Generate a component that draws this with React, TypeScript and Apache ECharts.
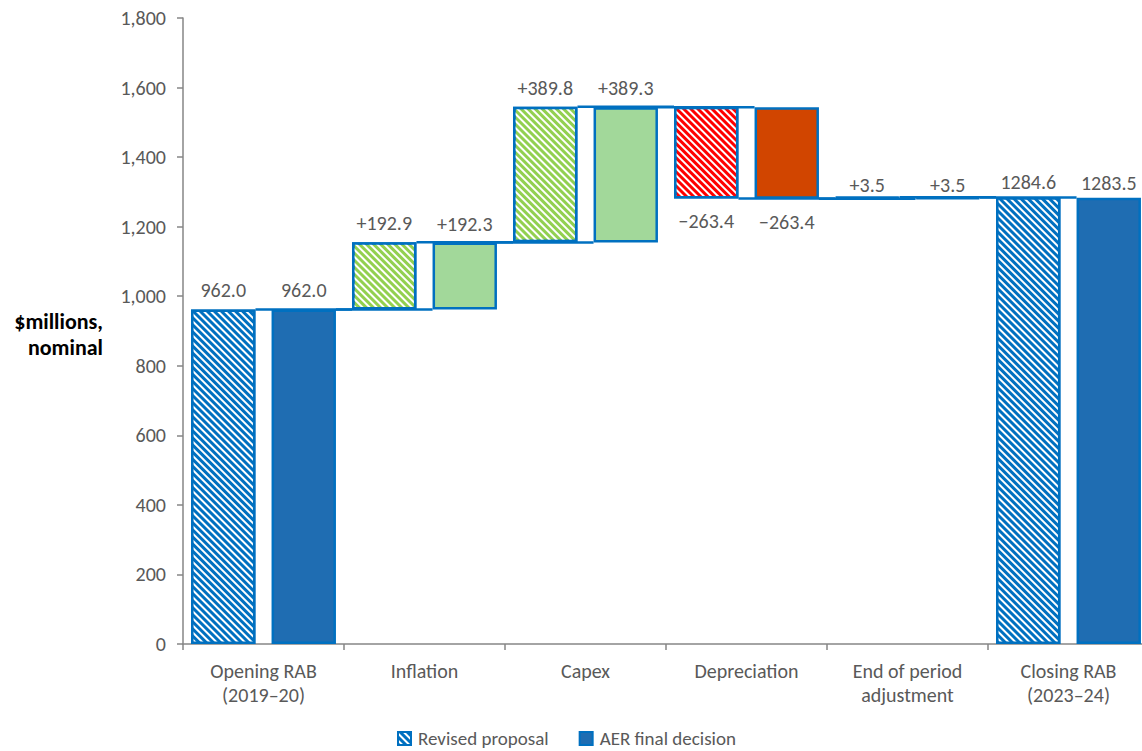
import React, { useEffect, useRef } from "react";
import * as echarts from "echarts";

const categories = [
  "Opening RAB\n(2019–20)",
  "Inflation",
  "Capex",
  "Depreciation",
  "End of period\nadjustment",
  "Closing RAB\n(2023–24)",
];
const kinds = ["total", "delta", "delta", "delta", "delta", "total"];
const revisedValues = [962.0, 192.9, 389.8, -263.4, 3.5, 1284.6];
const aerValues = [962.0, 192.3, 389.3, -263.4, 3.5, 1283.5];
const yTicks = [0, 200, 400, 600, 800, 1000, 1200, 1400, 1600, 1800];
const seriesNames = ["Revised proposal", "AER final decision"];

const FONT = "Calibri, Carlito, Lato, sans-serif";
const BORDER = "#0070C0";
const TEXT = "#595959";
const FS = 20;

function waterfall(values: number[]) {
  const base: number[] = [];
  const height: number[] = [];
  const levels: number[] = [];
  let run = 0;
  values.forEach((v, i) => {
    if (kinds[i] === "total") {
      base.push(0);
      height.push(v);
      run = v;
    } else if (v >= 0) {
      base.push(run);
      height.push(v);
      run += v;
    } else {
      base.push(run + v);
      height.push(-v);
      run += v;
    }
    levels.push(run);
  });
  return { base, height, levels };
}

function fmt(v: number, i: number) {
  if (kinds[i] === "total") return v.toFixed(1);
  return (v >= 0 ? "+" : "−") + Math.abs(v).toFixed(1);
}

const stripe = {
  symbol: "rect",
  symbolSize: 1,
  dashArrayX: [1, 0],
  dashArrayY: [2, 3],
  rotation: Math.PI / 4,
  color: "#ffffff",
};

function fills(solid: boolean, i: number, v: number) {
  if (kinds[i] === "total") return solid ? "#1F6DB2" : "#0070C0";
  if (i === 4) return solid ? "#1F6DB2" : "#0070C0";
  if (v >= 0) return solid ? "#A2D89A" : "#92D050";
  return solid ? "#D14500" : "#FF0000";
}

function labelDistance(i: number, v: number) {
  if (i === 4) return 2;
  if (i === 5) return 5;
  if (v < 0) return 13;
  return 9;
}

export default function App() {
  const ref = useRef<HTMLDivElement>(null);
  useEffect(() => {
    if (!ref.current) return;
    const chart = echarts.init(ref.current, undefined, { renderer: "svg" });
    const r = waterfall(revisedValues);
    const a = waterfall(aerValues);

    const mkVisible = (
      name: string,
      stack: string,
      values: number[],
      wf: { height: number[] },
      solid: boolean
    ) => ({
      name,
      type: "bar",
      stack,
      barWidth: "40%",
      barGap: "25%",
      itemStyle: solid
        ? { color: "#1F6DB2", borderColor: BORDER, borderWidth: 2.5 }
        : { color: "#0070C0", borderColor: BORDER, borderWidth: 2.5, decal: stripe },
      data: wf.height.map((h, i) => ({
        value: h,
        itemStyle: solid
          ? { color: fills(true, i, values[i]) }
          : { color: fills(false, i, values[i]), decal: stripe },
        label: {
          show: true,
          position: values[i] < 0 ? "bottom" : "top",
          distance: labelDistance(i, values[i]),
          formatter: () => fmt(values[i], i),
          color: TEXT,
          fontSize: FS,
          fontFamily: FONT,
        },
      })),
    });

    const mkBase = (stack: string, wf: { base: number[] }) => ({
      name: stack + "-base",
      type: "bar",
      stack,
      barWidth: "40%",
      barGap: "25%",
      silent: true,
      itemStyle: { color: "transparent", borderWidth: 0 },
      data: wf.base,
    });

    const connectorData: number[][] = [];
    [r, a].forEach((wf, s) => {
      for (let i = 0; i < categories.length - 1; i++) {
        connectorData.push([i, wf.levels[i], s]);
      }
    });

    chart.setOption({
      animation: false,
      grid: { left: 183, right: 0, top: 18, bottom: 107, containLabel: false },
      legend: {
        data: seriesNames,
        top: 729,
        left: 397,
        padding: 0,
        itemWidth: 13,
        itemHeight: 13,
        itemGap: 30,
        icon: "rect",
        textStyle: {
          color: TEXT,
          fontSize: 19,
          lineHeight: 17,
          fontFamily: FONT,
          padding: [0, 0, 0, 2],
        },
      },
      graphic: [
        {
          type: "text",
          x: 103,
          y: 334,
          style: {
            text: "$millions,\nnominal",
            align: "right",
            verticalAlign: "middle",
            font: "bold 22px " + FONT,
            lineHeight: 26,
            fill: "#000000",
          },
        },
      ],
      xAxis: {
        type: "category",
        data: categories,
        axisLine: { show: true, lineStyle: { color: "#868686", width: 1.5 } },
        axisTick: { show: true, length: 6, lineStyle: { color: "#868686", width: 1.5 } },
        axisLabel: {
          color: TEXT,
          fontSize: FS,
          fontFamily: FONT,
          lineHeight: 24,
          margin: 15,
        },
      },
      yAxis: {
        type: "value",
        min: yTicks[0],
        max: yTicks[yTicks.length - 1],
        interval: yTicks[1] - yTicks[0],
        splitLine: { show: false },
        axisLine: { show: true, lineStyle: { color: "#868686", width: 1.5 } },
        axisTick: { show: true, length: 6, lineStyle: { color: "#868686", width: 1.5 } },
        axisLabel: {
          color: TEXT,
          fontSize: FS,
          fontFamily: FONT,
          margin: 17,
          formatter: (v: number) => v.toLocaleString("en-US"),
        },
      },
      series: [
        mkBase("r", r),
        mkVisible(seriesNames[0], "r", revisedValues, r, false),
        mkBase("a", a),
        mkVisible(seriesNames[1], "a", aerValues, a, true),
        {
          type: "custom",
          silent: true,
          encode: { x: 0, y: 1 },
          data: connectorData,
          z: 3,
          renderItem: (params: any, api: any) => {
            const i = api.value(0);
            const lvl = api.value(1);
            const s = api.value(2);
            const p1 = api.coord([i, lvl]);
            const p2 = api.coord([i + 1, lvl]);
            const band = api.size([1, 0])[0];
            const bw = band * 0.4;
            const off = (s === 0 ? -1 : 1) * band * 0.25;
            return {
              type: "line",
              shape: {
                x1: p1[0] + off + bw / 2,
                y1: p1[1],
                x2: p2[0] + off - bw / 2,
                y2: p1[1],
              },
              style: { stroke: BORDER, lineWidth: 2.5 },
            };
          },
        },
      ],
    });
    return () => chart.dispose();
  }, []);
  return (
    <div
      style={{
        position: "fixed",
        left: 0,
        top: 0,
        width: 1142,
        height: 751,
        overflow: "hidden",
        background: "#fff",
      }}
    >
      <div ref={ref} style={{ width: 1149, height: 751 }} />
    </div>
  );
}
